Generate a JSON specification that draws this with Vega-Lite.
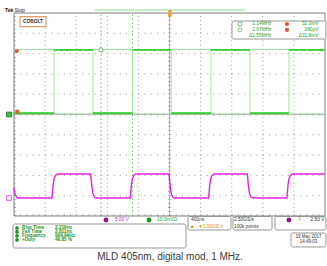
{
"$schema": "https://vega.github.io/schema/vega-lite/v6.json",
"width": 327, "height": 266, "autosize": "none", "padding": 0, "background": "#ffffff",
"config": {"view": {"stroke": null}, "text": {"font": "Liberation Sans"}},
"datasets": {
 "gv": [{"x":1,"y":0,"y2":10},{"x":2,"y":0,"y2":10},{"x":3,"y":0,"y2":10},{"x":4,"y":0,"y2":10},{"x":6,"y":0,"y2":10},{"x":7,"y":0,"y2":10},{"x":8,"y":0,"y2":10},{"x":9,"y":0,"y2":10}],
 "gh": [{"x":0,"x2":10,"y":1},{"x":0,"x2":10,"y":2},{"x":0,"x2":10,"y":3},{"x":0,"x2":10,"y":4},{"x":0,"x2":10,"y":6},{"x":0,"x2":10,"y":7},{"x":0,"x2":10,"y":8},{"x":0,"x2":10,"y":9}],
 "cv": [{"x":5,"y":0,"y2":10}],
 "ch": [{"x":0,"x2":10,"y":5}],
 "btick": [{"x":0,"x2":10,"y":0.05}],
 "ltick": [{"x":0.032,"y":0,"y2":10}],
 "frame": [{"x":0,"x2":10,"y":0,"y2":10}],
 "boxes": [
  {"x":7.010,"x2":10.032,"y":9.606,"y2":8.719},
  {"x":-0.032,"x2":5.531,"y":-0.394,"y2":-1.576},
  {"x":5.595,"x2":6.977,"y":-0.025,"y2":-0.690},
  {"x":7.042,"x2":8.296,"y":-0.025,"y2":-0.690},
  {"x":8.392,"x2":10.032,"y":-0.025,"y2":-0.690},
  {"x":8.907,"x2":10.032,"y":-0.837,"y2":-1.527}
 ],
 "cobolt": [{"x":0.193,"x2":1.029,"y":9.818,"y2":9.325}],
 "topbar": [{"x":2.605,"x2":7.428,"y":10.148}],
 "hcur": [{"x":0,"x2":10,"y":8.202},{"x":0,"x2":10,"y":5.03}],
 "vcur": [{"x":2.797,"y":0,"y2":10},{"x":3.810,"y":0,"y2":10}],
 "ch2": [{"x":0,"y":5.07},{"x":1.286,"y":8.18},{"x":2.540,"y":5.07},{"x":3.817,"y":8.18},{"x":5.058,"y":5.07},{"x":6.334,"y":8.18},{"x":7.588,"y":5.07},{"x":8.842,"y":8.18},{"x":10,"y":8.18}],
 "ch2lev": [{"x":0,"x2":1.286,"y":5.07},{"x":1.286,"x2":2.540,"y":8.18},{"x":2.540,"x2":3.817,"y":5.07},{"x":3.817,"x2":5.058,"y":8.18},{"x":5.058,"x2":6.334,"y":5.07},{"x":6.334,"x2":7.588,"y":8.18},{"x":7.588,"x2":8.842,"y":5.07},{"x":8.842,"x2":10,"y":8.18}],
 "ch1": [
  {"x":0,"y":1.379},{"x":0.032,"y":1.084},{"x":0.096,"y":0.911},{"x":0.193,"y":0.887},
  {"x":1.222,"y":0.887},{"x":1.254,"y":1.478},{"x":1.286,"y":1.823},{"x":1.334,"y":1.995},{"x":1.399,"y":2.069},
  {"x":2.466,"y":2.069},{"x":2.502,"y":1.478},{"x":2.540,"y":1.084},{"x":2.588,"y":0.921},{"x":2.653,"y":0.887},
  {"x":3.740,"y":0.887},{"x":3.772,"y":1.478},{"x":3.804,"y":1.823},{"x":3.852,"y":1.995},{"x":3.917,"y":2.069},
  {"x":4.984,"y":2.069},{"x":5.020,"y":1.478},{"x":5.058,"y":1.084},{"x":5.106,"y":0.921},{"x":5.171,"y":0.887},
  {"x":6.258,"y":0.887},{"x":6.290,"y":1.478},{"x":6.322,"y":1.823},{"x":6.370,"y":1.995},{"x":6.435,"y":2.069},
  {"x":7.502,"y":2.069},{"x":7.538,"y":1.478},{"x":7.576,"y":1.084},{"x":7.624,"y":0.921},{"x":7.689,"y":0.887},
  {"x":8.776,"y":0.887},{"x":8.808,"y":1.478},{"x":8.840,"y":1.823},{"x":8.888,"y":1.995},{"x":8.953,"y":2.069},
  {"x":10,"y":2.069}
 ],
 "ocirc": [{"x":0.087,"y":8.128},{"x":0.106,"y":5.138},{"x":8.778,"y":9.458},{"x":8.778,"y":9.163}],
 "isq": [{"x":2.797,"y":8.177},{"x":7.267,"y":9.458}],
 "icirc": [{"x":7.267,"y":9.163}],
 "gmark": [{"x":-0.161,"y":5.0}],
 "mmark": [{"x":-0.161,"y":0.887}],
 "trig": [{"x":5.016,"y":9.951}],
 "pCirc": [{"x":2.958,"y":-0.197},{"x":8.842,"y":-0.197}],
 "gCirc": [{"x":4.341,"y":-0.197}],
 "mCirc": [{"x":0.096,"y":-0.591},{"x":0.096,"y":-0.788},{"x":0.096,"y":-0.985},{"x":0.096,"y":-1.182}],
 "tTek": [{"x":-0.289,"y":10.148,"t":"Tek"}],
 "tStop": [{"x":0.016,"y":10.148,"t":"Stop"}],
 "tCobolt": [{"x":0.611,"y":9.571,"t":"COBOLT"}],
 "tCur": [
  {"x":8.280,"y":9.458,"t":"1.14MHz"},{"x":8.280,"y":9.163,"t":"2.07MHz"},{"x":8.280,"y":8.867,"t":"Δ2.55MHz"},
  {"x":9.791,"y":9.458,"t":"32.0mV"},{"x":9.791,"y":9.163,"t":"280µV"},{"x":9.791,"y":8.867,"t":"Δ31.8mV"}
 ],
 "tMag": [{"x":3.248,"y":-0.197,"t":"5.00 V"}],
 "tGrn": [{"x":4.598,"y":-0.197,"t":"10.0mVΩ"}],
 "tDark": [{"x":5.691,"y":-0.197,"t":"400ns"},{"x":7.074,"y":-0.197,"t":"2.50GS/s"},{"x":7.074,"y":-0.542,"t":"100k points"},{"x":9.164,"y":-0.197,"t":"\\"}],
 "tDarkR": [{"x":9.98,"y":-0.197,"t":"2.50 V"}],
 "tOrange": [{"x":5.691,"y":-0.542,"t":"■→▼0.00030 s"}],
 "tMeasL": [{"x":0.257,"y":-0.591,"t":"Rise Time"},{"x":0.257,"y":-0.788,"t":"Fall Time"},{"x":0.257,"y":-0.985,"t":"Frequency"},{"x":0.257,"y":-1.182,"t":"+Duty"}],
 "tMeasV": [{"x":1.318,"y":-0.591,"t":"2.216ns"},{"x":1.318,"y":-0.788,"t":"2.811ns"},{"x":1.318,"y":-0.985,"t":"999.9kHz"},{"x":1.318,"y":-1.182,"t":"49.85 %"}],
 "tDate": [{"x":9.469,"y":-1.034,"t":"19 May 2017"},{"x":9.469,"y":-1.281,"t":"14:49:03"}],
 "tCap": [{"x":5.016,"y":-2.167,"t":"MLD 405nm, digital mod, 1 MHz."}]
},
"encoding": {
 "x": {"field": "x", "type": "quantitative", "scale": {"domain": [-0.45016, 10.0643], "nice": false, "zero": false}, "axis": null},
 "y": {"field": "y", "type": "quantitative", "scale": {"domain": [-2.4631, 10.6404], "nice": false, "zero": false}, "axis": null}
},
"layer": [
 {"data": {"name": "gv"}, "mark": {"type": "rule", "color": "#9a9a9a", "strokeWidth": 1, "strokeDash": [1, 3.06]}, "encoding": {"y2": {"field": "y2"}}},
 {"data": {"name": "gh"}, "mark": {"type": "rule", "color": "#9a9a9a", "strokeWidth": 1, "strokeDash": [1, 5.22]}, "encoding": {"x2": {"field": "x2"}}},
 {"data": {"name": "cv"}, "mark": {"type": "rule", "color": "#b4b4b4", "strokeWidth": 1}, "encoding": {"y2": {"field": "y2"}}},
 {"data": {"name": "ch"}, "mark": {"type": "rule", "color": "#a4b0a4", "strokeWidth": 1}, "encoding": {"x2": {"field": "x2"}}},
 {"data": {"name": "cv"}, "mark": {"type": "rule", "color": "#a8a8a8", "strokeWidth": 3.2, "strokeDash": [0.8, 3.26]}, "encoding": {"y2": {"field": "y2"}}},
 {"data": {"name": "ch"}, "mark": {"type": "rule", "color": "#a8a8a8", "strokeWidth": 3, "strokeDash": [0.8, 5.42]}, "encoding": {"x2": {"field": "x2"}}},
 {"data": {"name": "btick"}, "mark": {"type": "rule", "color": "#a8a8a8", "strokeWidth": 2, "strokeDash": [0.8, 5.42]}, "encoding": {"x2": {"field": "x2"}}},
 {"data": {"name": "ltick"}, "mark": {"type": "rule", "color": "#a8a8a8", "strokeWidth": 2, "strokeDash": [0.8, 3.26]}, "encoding": {"y2": {"field": "y2"}}},
 {"data": {"name": "frame"}, "mark": {"type": "rect", "fill": "#ffffff", "fillOpacity": 0, "stroke": "#7c7c7c", "strokeWidth": 1},
  "encoding": {"x2": {"field": "x2"}, "y2": {"field": "y2"}}},
 {"data": {"name": "boxes"}, "mark": {"type": "rect", "fill": "#ffffff", "stroke": "#8c8c8c", "strokeWidth": 0.9, "cornerRadius": 2},
  "encoding": {"x2": {"field": "x2"}, "y2": {"field": "y2"}}},
 {"data": {"name": "cobolt"}, "mark": {"type": "rect", "fill": "#ffffff", "stroke": "#e49a6a", "strokeWidth": 1.2},
  "encoding": {"x2": {"field": "x2"}, "y2": {"field": "y2"}}},
 {"data": {"name": "topbar"}, "mark": {"type": "rule", "color": "#8ed88e", "strokeWidth": 1}, "encoding": {"x2": {"field": "x2"}}},
 {"data": {"name": "trig"}, "mark": {"type": "point", "filled": true, "color": "#f0a030", "size": 64, "shape": "M-0.45,-1L0.45,-1L0.45,0.5L0,1L-0.45,0.5Z", "opacity": 1}},
 {"data": {"name": "hcur"}, "mark": {"type": "rule", "color": "#a6e4a6", "strokeWidth": 1}, "encoding": {"x2": {"field": "x2"}}},
 {"data": {"name": "vcur"}, "mark": {"type": "rule", "color": "#5cc05c", "strokeWidth": 1, "strokeDash": [1.5, 2.5]}, "encoding": {"y2": {"field": "y2"}}},
 {"data": {"name": "ch2"}, "mark": {"type": "line", "interpolate": "step-after", "color": "#9ee89e", "strokeWidth": 1}},
 {"data": {"name": "ch2lev"}, "mark": {"type": "rule", "color": "#33cc33", "strokeWidth": 1.8}, "encoding": {"x2": {"field": "x2"}}},
 {"data": {"name": "ch1"}, "mark": {"type": "line", "color": "#e620e6", "strokeWidth": 1.4}},
 {"data": {"name": "ocirc"}, "mark": {"type": "point", "shape": "circle", "filled": true, "color": "#e8562a", "size": 18, "opacity": 1}},
 {"data": {"name": "isq"}, "mark": {"type": "point", "shape": "square", "filled": false, "fill": "#ffffff", "stroke": "#6aaa6a", "strokeWidth": 0.8, "size": 14, "opacity": 1}},
 {"data": {"name": "icirc"}, "mark": {"type": "point", "shape": "circle", "filled": false, "stroke": "#6aaa6a", "strokeWidth": 0.8, "size": 14, "opacity": 1}},
 {"data": {"name": "gmark"}, "mark": {"type": "point", "shape": "square", "filled": true, "fill": "#3cc83c", "stroke": "#2a6a2a", "strokeWidth": 0.8, "size": 24, "opacity": 1}},
 {"data": {"name": "mmark"}, "mark": {"type": "point", "shape": "square", "fill": "#fbe6fb", "stroke": "#d858d8", "strokeWidth": 0.8, "size": 24, "opacity": 1}},
 {"data": {"name": "pCirc"}, "mark": {"type": "point", "shape": "circle", "filled": true, "color": "#8a168a", "size": 24, "opacity": 1}},
 {"data": {"name": "gCirc"}, "mark": {"type": "point", "shape": "circle", "filled": true, "color": "#1f901f", "size": 24, "opacity": 1}},
 {"data": {"name": "mCirc"}, "mark": {"type": "point", "shape": "circle", "filled": true, "color": "#1f901f", "size": 14, "opacity": 1}},
 {"data": {"name": "tTek"}, "mark": {"type": "text", "align": "left", "baseline": "middle", "fontSize": 5, "fontWeight": "bold", "color": "#111111"}, "encoding": {"text": {"field": "t"}}},
 {"data": {"name": "tStop"}, "mark": {"type": "text", "align": "left", "baseline": "middle", "fontSize": 5, "color": "#222222"}, "encoding": {"text": {"field": "t"}}},
 {"data": {"name": "tCobolt"}, "mark": {"type": "text", "align": "center", "baseline": "middle", "fontSize": 4.8, "fontWeight": "bold", "color": "#333333"}, "encoding": {"text": {"field": "t"}}},
 {"data": {"name": "tCur"}, "mark": {"type": "text", "align": "right", "baseline": "middle", "fontSize": 4.8, "color": "#2c9c2c"}, "encoding": {"text": {"field": "t"}}},
 {"data": {"name": "tMag"}, "mark": {"type": "text", "align": "left", "baseline": "middle", "fontSize": 4.8, "color": "#b832b8"}, "encoding": {"text": {"field": "t"}}},
 {"data": {"name": "tGrn"}, "mark": {"type": "text", "align": "left", "baseline": "middle", "fontSize": 4.8, "color": "#22a022"}, "encoding": {"text": {"field": "t"}}},
 {"data": {"name": "tDark"}, "mark": {"type": "text", "align": "left", "baseline": "middle", "fontSize": 4.8, "color": "#333333"}, "encoding": {"text": {"field": "t"}}},
 {"data": {"name": "tDarkR"}, "mark": {"type": "text", "align": "right", "baseline": "middle", "fontSize": 4.8, "color": "#333333"}, "encoding": {"text": {"field": "t"}}},
 {"data": {"name": "tOrange"}, "mark": {"type": "text", "align": "left", "baseline": "middle", "fontSize": 4.6, "color": "#e08a10"}, "encoding": {"text": {"field": "t"}}},
 {"data": {"name": "tMeasL"}, "mark": {"type": "text", "align": "left", "baseline": "middle", "fontSize": 4.7, "fontWeight": "bold", "color": "#1c961c"}, "encoding": {"text": {"field": "t"}}},
 {"data": {"name": "tMeasV"}, "mark": {"type": "text", "align": "left", "baseline": "middle", "fontSize": 4.7, "fontWeight": "bold", "color": "#1c961c"}, "encoding": {"text": {"field": "t"}}},
 {"data": {"name": "tDate"}, "mark": {"type": "text", "align": "center", "baseline": "middle", "fontSize": 4.5, "color": "#333333"}, "encoding": {"text": {"field": "t"}}},
 {"data": {"name": "tCap"}, "mark": {"type": "text", "align": "center", "baseline": "alphabetic", "fontSize": 10, "color": "#3a3a3a", "font": "Liberation Sans"}, "encoding": {"text": {"field": "t"}}}
]
}
